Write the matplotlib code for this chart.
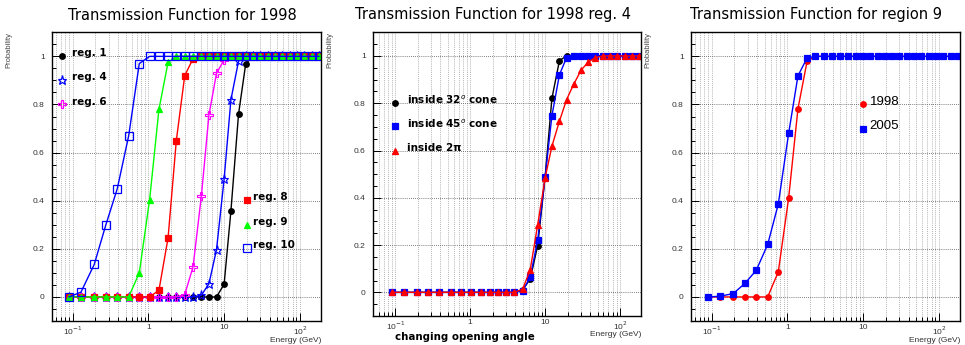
import matplotlib
matplotlib.use('Agg')
import matplotlib.pyplot as plt
from matplotlib.ticker import FixedLocator, FixedFormatter, MultipleLocator, NullFormatter

# energy bins (GeV) shared by every curve
energy = [0.090, 0.129, 0.193, 0.275, 0.389, 0.550, 0.759, 1.04, 1.38, 1.82,
          2.34, 3.02, 3.89, 5.01, 6.31, 7.94, 10.0, 12.3, 15.5, 19.3,
          24.0, 30.2, 37.8, 46.8, 58.9, 74.1, 91.2, 115, 145, 178]

# panel 1: 1998, per region
reg1 = [0, 0, 0, 0, 0, 0, 0, 0, 0, 0, 0, 0, 0, 0, 0, 0, 0.053, 0.358, 0.76, 0.97,
        1, 1, 1, 1, 1, 1, 1, 1, 1, 1]
reg4 = [0, 0, 0, 0, 0, 0, 0, 0, 0, 0, 0, 0, 0, 0.007, 0.055, 0.197, 0.49, 0.82, 0.98, 1,
        1, 1, 1, 1, 1, 1, 1, 1, 1, 1]
reg6 = [0, 0, 0, 0, 0, 0, 0, 0, 0, 0, 0, 0.01, 0.125, 0.42, 0.757, 0.93, 0.985, 1, 1, 1,
        1, 1, 1, 1, 1, 1, 1, 1, 1, 1]
reg8 = [0, 0, 0, 0, 0, 0, 0, 0, 0.028, 0.245, 0.65, 0.92, 0.99, 1, 1, 1, 1, 1, 1, 1,
        1, 1, 1, 1, 1, 1, 1, 1, 1, 1]
reg9 = [0, 0, 0, 0, 0, 0, 0.10, 0.405, 0.78, 0.975, 1, 1, 1, 1, 1, 1, 1, 1, 1, 1,
        1, 1, 1, 1, 1, 1, 1, 1, 1, 1]
reg10 = [0, 0.02, 0.135, 0.30, 0.45, 0.67, 0.97, 1, 1, 1, 1, 1, 1, 1, 1, 1, 1, 1, 1, 1,
         1, 1, 1, 1, 1, 1, 1, 1, 1, 1]

# panel 2: 1998 reg. 4, opening angle
cone32 = [0, 0, 0, 0, 0, 0, 0, 0, 0, 0, 0, 0, 0, 0.011, 0.056, 0.197, 0.49, 0.82, 0.98, 1,
          1, 1, 1, 1, 1, 1, 1, 1, 1, 1]
cone45 = [0, 0, 0, 0, 0, 0, 0, 0, 0, 0, 0, 0, 0, 0.007, 0.063, 0.22, 0.49, 0.747, 0.92, 0.993,
          1, 1, 1, 1, 1, 1, 1, 1, 1, 1]
full2pi = [0, 0, 0, 0, 0, 0, 0, 0, 0, 0, 0, 0, 0, 0.014, 0.095, 0.285, 0.485, 0.618, 0.724, 0.815,
           0.88, 0.94, 0.975, 0.993, 1, 1, 1, 1, 1, 1]

# panel 3: region 9, two years
y1998 = [0, 0, 0, 0, 0, 0, 0.104, 0.411, 0.782, 0.979, 1, 1, 1, 1, 1, 1, 1, 1, 1, 1,
         1, 1, 1, 1, 1, 1, 1, 1, 1, 1]
y2005 = [0, 0.003, 0.014, 0.056, 0.111, 0.218, 0.386, 0.68, 0.919, 0.993, 1, 1, 1, 1, 1, 1, 1, 1, 1, 1,
         1, 1, 1, 1, 1, 1, 1, 1, 1, 1]

xticks = [0.1, 1, 10, 100]
xticklabels = ['10$^{-1}$', '1', '10', '10$^{2}$']
yticks = [0, 0.2, 0.4, 0.6, 0.8, 1]
yticklabels = ['0', '0.2', '0.4', '0.6', '0.8', '1']

W, H = 965, 345
fig = plt.figure(figsize=(W / 100, H / 100), dpi=100)
TITLE_FONT = 'DejaVu Sans'
AX_FONT = 'Liberation Sans'


def make_axes(l, r, t, b, title, title_x, xmin):
    ax = fig.add_axes([l / W, 1 - b / H, (r - l) / W, (b - t) / H])
    ax.set_xscale('log')
    ax.set_xlim(xmin, 190)
    ax.set_ylim(-0.1, 1.1)
    ax.xaxis.set_major_locator(FixedLocator(xticks))
    ax.xaxis.set_major_formatter(FixedFormatter(xticklabels))
    ax.xaxis.set_minor_locator(FixedLocator(
        [m * 10.0 ** e for e in range(-2, 3) for m in range(2, 10)]))
    ax.xaxis.set_minor_formatter(NullFormatter())
    ax.yaxis.set_major_locator(FixedLocator(yticks))
    ax.yaxis.set_major_formatter(FixedFormatter(yticklabels))
    ax.yaxis.set_minor_locator(MultipleLocator(0.05))
    ax.tick_params(which='both', direction='in', top=False, right=False,
                   labelsize=6, labelcolor='#333333', width=0.7)
    ax.tick_params(axis='x', which='major', length=6, pad=2.5)
    ax.tick_params(axis='y', which='major', length=6, pad=5)
    ax.tick_params(which='minor', length=3)
    for lab in ax.get_xticklabels() + ax.get_yticklabels():
        lab.set_family(AX_FONT)
    ax.grid(True, axis='x', which='both', color='#9a9a9a', ls=(0, (1, 1.5)), lw=0.6)
    ax.grid(True, axis='y', which='major', color='#555555', ls=(0, (1, 1.5)), lw=0.6)
    for s in ax.spines.values():
        s.set_linewidth(1.0)
    ax.set_axisbelow(True)
    ax.set_ylabel('Probability', loc='top', fontsize=5.5, family=AX_FONT, color='#444444')
    ax.yaxis.set_label_coords(-39 / (r - l), 1.0)
    ax.text(1.0, -19 / (b - t), 'Energy (GeV)', transform=ax.transAxes,
            ha='right', va='center', fontsize=6, family=AX_FONT, color='#333333')
    fig.text(title_x / W, 1 - 15 / H, title, ha='center', va='center',
             fontsize=10.5, family=TITLE_FONT)
    return ax


def curve(ax, y, color, marker, ms=4, open_=False, mew=0.9):
    ax.plot(energy, y, color=color, lw=1, marker=marker, ms=ms,
            mfc='none' if open_ else color, mec=color, mew=mew, clip_on=True)


def entry(ax, x, y, tx, text, color, marker, ms=4, open_=False, **kw):
    ax.plot([x], [y], ls='none', marker=marker, ms=ms, color=color,
            mfc='none' if open_ else color, mec=color, mew=0.9)
    ax.text(tx, y + 0.012, text, va='center', ha='left', **kw)


leg_font = dict(fontsize=7.5, family=TITLE_FONT, fontweight='bold')

# ---- panel 1
ax1 = make_axes(51.7, 321, 32.3, 321, 'Transmission Function for 1998', 182.5, 0.053)
curve(ax1, reg1, 'black', 'o')
curve(ax1, reg4, 'blue', '*', ms=6.5, open_=True, mew=0.8)
curve(ax1, reg6, 'magenta', 'P', ms=6, open_=True, mew=0.8)
curve(ax1, reg8, 'red', 's')
curve(ax1, reg9, '#00ff00', '^', ms=4.5)
curve(ax1, reg10, 'blue', 's', ms=5.5, open_=True)
entry(ax1, 0.073, 1.0, 0.097, 'reg. 1', 'black', 'o', **leg_font)
entry(ax1, 0.073, 0.903, 0.097, 'reg. 4', 'blue', '*', ms=6.5, open_=True, **leg_font)
entry(ax1, 0.073, 0.80, 0.097, 'reg. 6', 'magenta', 'P', ms=6, open_=True, **leg_font)
entry(ax1, 19.8, 0.403, 24.3, 'reg. 8', 'red', 's', **leg_font)
entry(ax1, 19.8, 0.30, 24.3, 'reg. 9', '#00ff00', '^', ms=4.5, **leg_font)
entry(ax1, 19.8, 0.204, 24.3, 'reg. 10', 'blue', 's', ms=5.5, open_=True, **leg_font)

# ---- panel 2
ax2 = make_axes(372.7, 641, 32.3, 316, 'Transmission Function for 1998 reg. 4', 493, 0.05)
curve(ax2, cone32, 'black', 'o')
curve(ax2, cone45, 'blue', 's')
curve(ax2, full2pi, 'red', '^', ms=4.5)
entry(ax2, 0.099, 0.803, 0.142, 'inside 32$^{o}$ cone', 'black', 'o', **leg_font)
entry(ax2, 0.099, 0.702, 0.142, 'inside 45$^{o}$ cone', 'blue', 's', **leg_font)
entry(ax2, 0.099, 0.597, 0.142, 'inside 2\u03c0', 'red', '^', ms=4.5, **leg_font)
fig.text(464.5 / W, 1 - 336.7 / H, 'changing opening angle', ha='center', va='center',
         fontsize=7.4, family=TITLE_FONT, fontweight='bold')

# ---- panel 3
ax3 = make_axes(690.7, 960, 32.3, 321, 'Transmission Function for region 9', 816, 0.053)
curve(ax3, y1998, 'red', 'o')
curve(ax3, y2005, 'blue', 's')
entry(ax3, 10, 0.80, 12.2, '1998', 'red', 'o', fontsize=9.5, family=AX_FONT)
entry(ax3, 10, 0.70, 12.2, '2005', 'blue', 's', fontsize=9.5, family=AX_FONT)

fig.savefig('out.png', dpi=100)
